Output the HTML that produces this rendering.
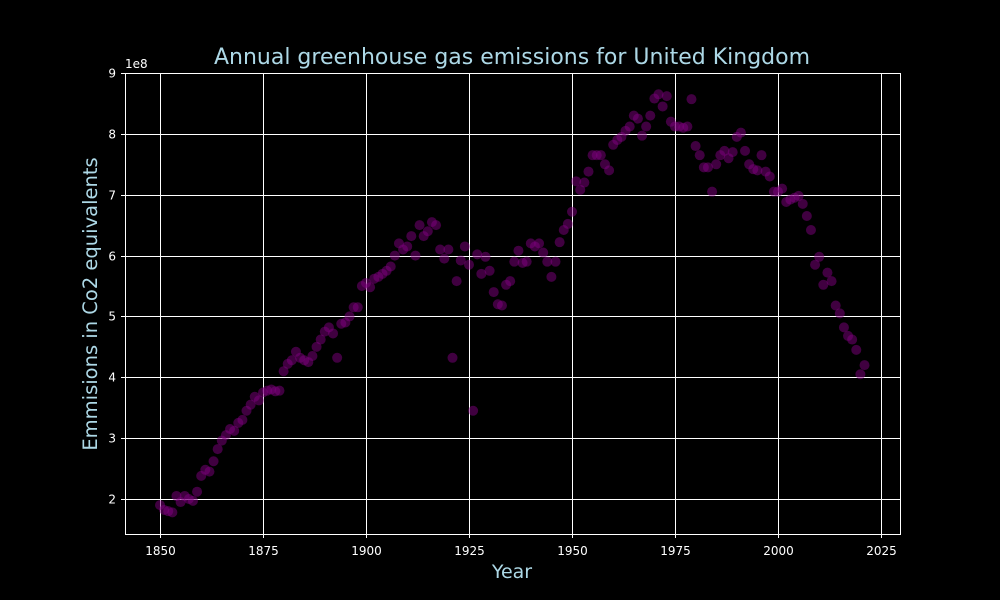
<!DOCTYPE html>
<html><head><meta charset="utf-8"><style>
html,body{margin:0;padding:0;background:#000;overflow:hidden;width:1000px;height:600px;}
svg{display:block;}
svg text{font-family:"DejaVu Sans","Liberation Sans",sans-serif;}
</style></head><body>
<svg id="chart" width="1000" height="600" xmlns="http://www.w3.org/2000/svg">
<rect width="1000" height="600" fill="#000"/>
<g id="grid"></g>
<rect x="125.5" y="73.5" width="775" height="461" fill="none" stroke="#fff" stroke-width="1"/>
<g id="points"></g>
<g id="ticks"></g>
<text x="512" y="64" text-anchor="middle" font-size="22" fill="#add8e6">Annual greenhouse gas emissions for United Kingdom</text>
<text x="512" y="578" text-anchor="middle" font-size="19" fill="#add8e6">Year</text>
<text transform="translate(97,304) rotate(-90)" text-anchor="middle" font-size="19.5" fill="#add8e6">Emmisions in Co2 equivalents</text>
<text x="125" y="68" font-size="12" fill="#fff">1e8</text>
</svg>
<script>
const startYear = 1850;
const emissions = [1.9,1.82,1.8,1.78,2.05,1.95,2.05,2.0,1.97,2.12,
2.38,2.48,2.45,2.62,2.82,2.96,3.05,3.15,3.12,3.25,
3.3,3.45,3.55,3.68,3.62,3.75,3.78,3.8,3.77,3.78,
4.1,4.22,4.28,4.42,4.32,4.28,4.25,4.35,4.5,4.62,
4.75,4.82,4.72,4.32,4.88,4.9,5.0,5.15,5.15,5.5,
5.55,5.48,5.62,5.65,5.7,5.75,5.82,6.0,6.2,6.1,
6.15,6.32,6.0,6.5,6.32,6.4,6.55,6.5,6.1,5.95,
6.1,4.32,5.58,5.92,6.15,5.85,3.45,6.02,5.7,5.98,
5.75,5.4,5.2,5.18,5.52,5.58,5.9,6.08,5.88,5.9,
6.2,6.15,6.2,6.05,5.9,5.65,5.9,6.22,6.42,6.52,
6.72,7.22,7.08,7.2,7.38,7.65,7.65,7.65,7.5,7.4,
7.82,7.9,7.95,8.05,8.12,8.3,8.25,7.97,8.12,8.3,
8.58,8.65,8.45,8.62,8.2,8.12,8.12,8.1,8.12,8.57,
7.8,7.65,7.45,7.45,7.05,7.5,7.65,7.72,7.6,7.7,
7.95,8.02,7.72,7.5,7.42,7.4,7.65,7.38,7.3,7.05,
7.05,7.1,6.88,6.92,6.95,6.98,6.85,6.65,6.42,5.85,
5.98,5.52,5.72,5.58,5.18,5.05,4.82,4.68,4.62,4.45,
4.05,4.2];
const xTicks = [1850,1875,1900,1925,1950,1975,2000,2025];
const yTicks = [2,3,4,5,6,7,8,9];
const NS="http://www.w3.org/2000/svg";
function xs(v){return 160+(v-1850)*(881-160)/175;}
function ys(v){return 499-(v-2)*(499-73)/7;}
const grid=document.getElementById('grid'), pts=document.getElementById('points'), tk=document.getElementById('ticks');
xTicks.forEach(t=>{
  const x=Math.round(xs(t))+0.5;
  const l=document.createElementNS(NS,'line');
  l.setAttribute('x1',x);l.setAttribute('x2',x);l.setAttribute('y1',73);l.setAttribute('y2',534);
  l.setAttribute('stroke','#fff');l.setAttribute('stroke-width','1');
  
  
  grid.appendChild(l);
  const m=document.createElementNS(NS,'line');
  m.setAttribute('x1',x);m.setAttribute('x2',x);m.setAttribute('y1',534);m.setAttribute('y2',538);m.setAttribute('stroke','#fff');
  tk.appendChild(m);
  const tx=document.createElementNS(NS,'text');
  tx.setAttribute('x',x);tx.setAttribute('y',555);tx.setAttribute('text-anchor','middle');tx.setAttribute('font-size','12');tx.setAttribute('fill','#fff');
  tx.textContent=t;
  
  
  tk.appendChild(tx);
});
yTicks.forEach(t=>{
  const y=Math.round(ys(t))+0.5;
  const l=document.createElementNS(NS,'line');
  l.setAttribute('x1',125);l.setAttribute('x2',900);l.setAttribute('y1',y);l.setAttribute('y2',y);
  l.setAttribute('stroke','#fff');l.setAttribute('stroke-width','1');
  
  
  grid.appendChild(l);
  const m=document.createElementNS(NS,'line');
  m.setAttribute('x1',121);m.setAttribute('x2',125);m.setAttribute('y1',y);m.setAttribute('y2',y);m.setAttribute('stroke','#fff');
  tk.appendChild(m);
  const tx=document.createElementNS(NS,'text');
  tx.setAttribute('x',116);tx.setAttribute('y',y+4);tx.setAttribute('text-anchor','end');tx.setAttribute('font-size','12');tx.setAttribute('fill','#fff');
  tx.textContent=t;
  
  
  tk.appendChild(tx);
});
emissions.forEach((v,i)=>{
  const c=document.createElementNS(NS,'circle');
  c.setAttribute('cx',xs(startYear+i));c.setAttribute('cy',ys(v));c.setAttribute('r',5);
  c.setAttribute('fill','#800080');c.setAttribute('fill-opacity','0.5');
  
  
  pts.appendChild(c);
});
</script>
</body></html>
